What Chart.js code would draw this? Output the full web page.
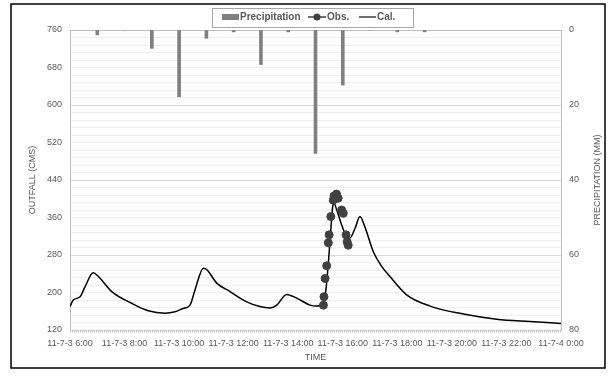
<!DOCTYPE html>
<html>
<head>
<meta charset="utf-8">
<script src="https://cdn.jsdelivr.net/npm/chart.js@4"></script>
<style>
  body { margin: 0; background: #fff; }
  #wrap { width: 615px; height: 376px; }
</style>
</head>
<body>
<div id="wrap"><canvas id="chart" width="615" height="376"></canvas></div>
<script>
// hours since 0:00 on 11-7-3
const rainHours = [7, 8, 9, 10, 11, 12, 13, 14, 15, 16, 17, 18, 19];
const rainMm = [1.3, 0, 4.9, 17.8, 2.2, 0.5, 9.2, 0.5, 32.9, 14.7, 0, 0.5, 0.5];

const obsHours = [15.29, 15.31, 15.35, 15.41, 15.47, 15.5, 15.56, 15.65, 15.68, 15.77, 15.83, 15.96, 16.02, 16.12, 16.16, 16.2];
const obsFlow = [173, 191, 230, 257, 306, 323, 362, 397, 406, 410, 401, 376, 369, 323, 308, 301];

const calHours = [6.0, 6.12, 6.37, 6.55, 6.85, 7.04, 7.53, 8.26, 8.87, 9.48, 9.85, 10.15, 10.4, 10.58, 10.89, 11.01,
  11.38, 11.87, 12.48, 12.96, 13.33, 13.58, 13.94, 14.31, 14.8, 15.04, 15.29, 15.38, 15.47, 15.56, 15.63, 15.68,
  15.78, 15.96, 16.14, 16.26, 16.45, 16.63, 16.81, 17.12, 17.4, 17.73, 18.34, 19.2, 20.42, 21.64, 22.86, 24];
const calFlow = [170, 184, 191, 212, 242, 234, 202, 177, 161, 156, 159, 166, 173, 205, 252, 249,
  220, 202, 180, 170, 167, 173, 196, 188, 173, 171, 177, 205, 262, 333, 383, 390,
  376, 344, 319, 316, 337, 362, 340, 287, 258, 234, 195, 171, 154, 143, 138, 134];

const flowTicks = [120, 760, 80];   // min, max, step
const rainTicks = [0, 80, 20];

const font = "'Liberation Sans', Arial, sans-serif";
const textColor = '#595959';

const zip = (xs, ys) => xs.map((x, i) => ({ x: x, y: ys[i] }));

function timeLabel(v) {
  return v >= 24 ? '11-7-4 0:00' : '11-7-3 ' + v + ':00';
}

// frame, plot border, axis titles and legend box
const decor = {
  id: 'decor',
  beforeDatasetsDraw(chart) {
    const ctx = chart.ctx, a = chart.chartArea;
    ctx.save();
    ctx.strokeStyle = '#bfbfbf';
    ctx.lineWidth = 1;
    ctx.beginPath();
    ctx.moveTo(a.left, a.top + 0.5);
    ctx.lineTo(a.right, a.top + 0.5);
    ctx.stroke();
    ctx.restore();
  },
  afterDraw(chart) {
    const ctx = chart.ctx, a = chart.chartArea;
    ctx.save();
    // bottom axis, dotted
    ctx.strokeStyle = '#c8c8c8';
    ctx.lineWidth = 3;
    ctx.setLineDash([1, 1]);
    ctx.beginPath();
    ctx.moveTo(a.left, a.bottom + 1);
    ctx.lineTo(a.right, a.bottom + 1);
    ctx.stroke();
    ctx.setLineDash([]);

    // outer frame
    ctx.strokeStyle = '#000';
    ctx.lineWidth = 1.5;
    ctx.strokeRect(11, 4, 594, 364);

    // axis titles
    ctx.fillStyle = textColor;
    ctx.font = '9px ' + font;
    ctx.textAlign = 'center';
    ctx.textBaseline = 'middle';
    ctx.fillText('TIME', (a.left + a.right) / 2, 358);
    ctx.save();
    ctx.translate(33, (a.top + a.bottom) / 2);
    ctx.rotate(-Math.PI / 2);
    ctx.fillText('OUTFALL (CMS)', 0, 0);
    ctx.restore();
    ctx.save();
    ctx.translate(598, (a.top + a.bottom) / 2);
    ctx.rotate(-Math.PI / 2);
    ctx.fillText('PRECIPITATION (MM)', 0, 0);
    ctx.restore();

    // legend
    ctx.fillStyle = '#fff';
    ctx.fillRect(212, 8, 201, 19);
    ctx.strokeStyle = '#a6a6a6';
    ctx.lineWidth = 1;
    ctx.strokeRect(212.5, 8.5, 201, 19);
    ctx.fillStyle = '#7f7f7f';
    ctx.fillRect(222, 14, 17, 6);
    ctx.strokeStyle = '#404040';
    ctx.lineWidth = 1.5;
    ctx.beginPath();
    ctx.moveTo(308, 17); ctx.lineTo(326, 17);
    ctx.moveTo(359, 17); ctx.lineTo(376, 17);
    ctx.stroke();
    ctx.fillStyle = '#404040';
    ctx.beginPath();
    ctx.arc(317, 17, 3.5, 0, Math.PI * 2);
    ctx.fill();
    ctx.fillStyle = textColor;
    ctx.font = 'bold 10px ' + font;
    ctx.textAlign = 'left';
    ctx.fillText('Precipitation', 240, 17.5);
    ctx.fillText('Obs.', 327, 17.5);
    ctx.fillText('Cal.', 377, 17.5);
    ctx.restore();
  }
};

new Chart(document.getElementById('chart'), {
  type: 'bar',
  data: {
    datasets: [
      {
        type: 'scatter',
        label: 'Obs.',
        data: zip(obsHours, obsFlow),
        yAxisID: 'y',
        showLine: false,
        pointRadius: 4,
        pointBackgroundColor: '#404040',
        pointBorderColor: '#404040',
        order: 0
      },
      {
        type: 'line',
        label: 'Cal.',
        data: zip(calHours, calFlow),
        yAxisID: 'y',
        borderColor: '#000',
        borderWidth: 1.5,
        pointRadius: 0,
        cubicInterpolationMode: 'monotone',
        fill: false,
        order: 1
      },
      {
        type: 'bar',
        label: 'Precipitation',
        data: zip(rainHours, rainMm),
        yAxisID: 'y1',
        backgroundColor: '#7f7f7f',
        barThickness: 3,
        order: 2
      }
    ]
  },
  options: {
    responsive: false,
    animation: false,
    devicePixelRatio: 1,
    layout: { padding: { top: 30, left: 0, right: 0, bottom: 0 } },
    plugins: { legend: { display: false }, tooltip: { enabled: false } },
    scales: {
      x: {
        type: 'linear',
        min: 6,
        max: 24,
        offset: false,
        afterFit: s => { s.height = 46; },
        ticks: {
          stepSize: 2,
          autoSkip: false,
          maxRotation: 0,
          padding: 8,
          color: textColor,
          font: { family: font, size: 9 },
          callback: timeLabel
        },
        grid: { display: false, drawTicks: false },
        border: { display: false }
      },
      y: {
        position: 'left',
        min: flowTicks[0],
        max: flowTicks[1],
        afterFit: s => { s.width = 70; },
        ticks: {
          stepSize: flowTicks[2],
          padding: 8,
          color: textColor,
          font: { family: font, size: 9 }
        },
        grid: { display: false, drawTicks: false },
        border: { color: '#bfbfbf' }
      },
      y1: {
        position: 'right',
        reverse: true,
        min: rainTicks[0],
        max: rainTicks[1],
        afterFit: s => { s.width = 54; },
        ticks: {
          stepSize: 2,
          autoSkip: false,
          padding: 8,
          color: textColor,
          font: { family: font, size: 9 },
          callback: v => (v % rainTicks[2] === 0 ? v : '')
        },
        grid: {
          drawTicks: false,
          color: c => (c.tick && c.tick.value % rainTicks[2] === 0 ? '#d9d9d9' : '#efefef')
        },
        border: { color: '#bfbfbf' }
      }
    }
  },
  plugins: [decor]
});
</script>
</body>
</html>
